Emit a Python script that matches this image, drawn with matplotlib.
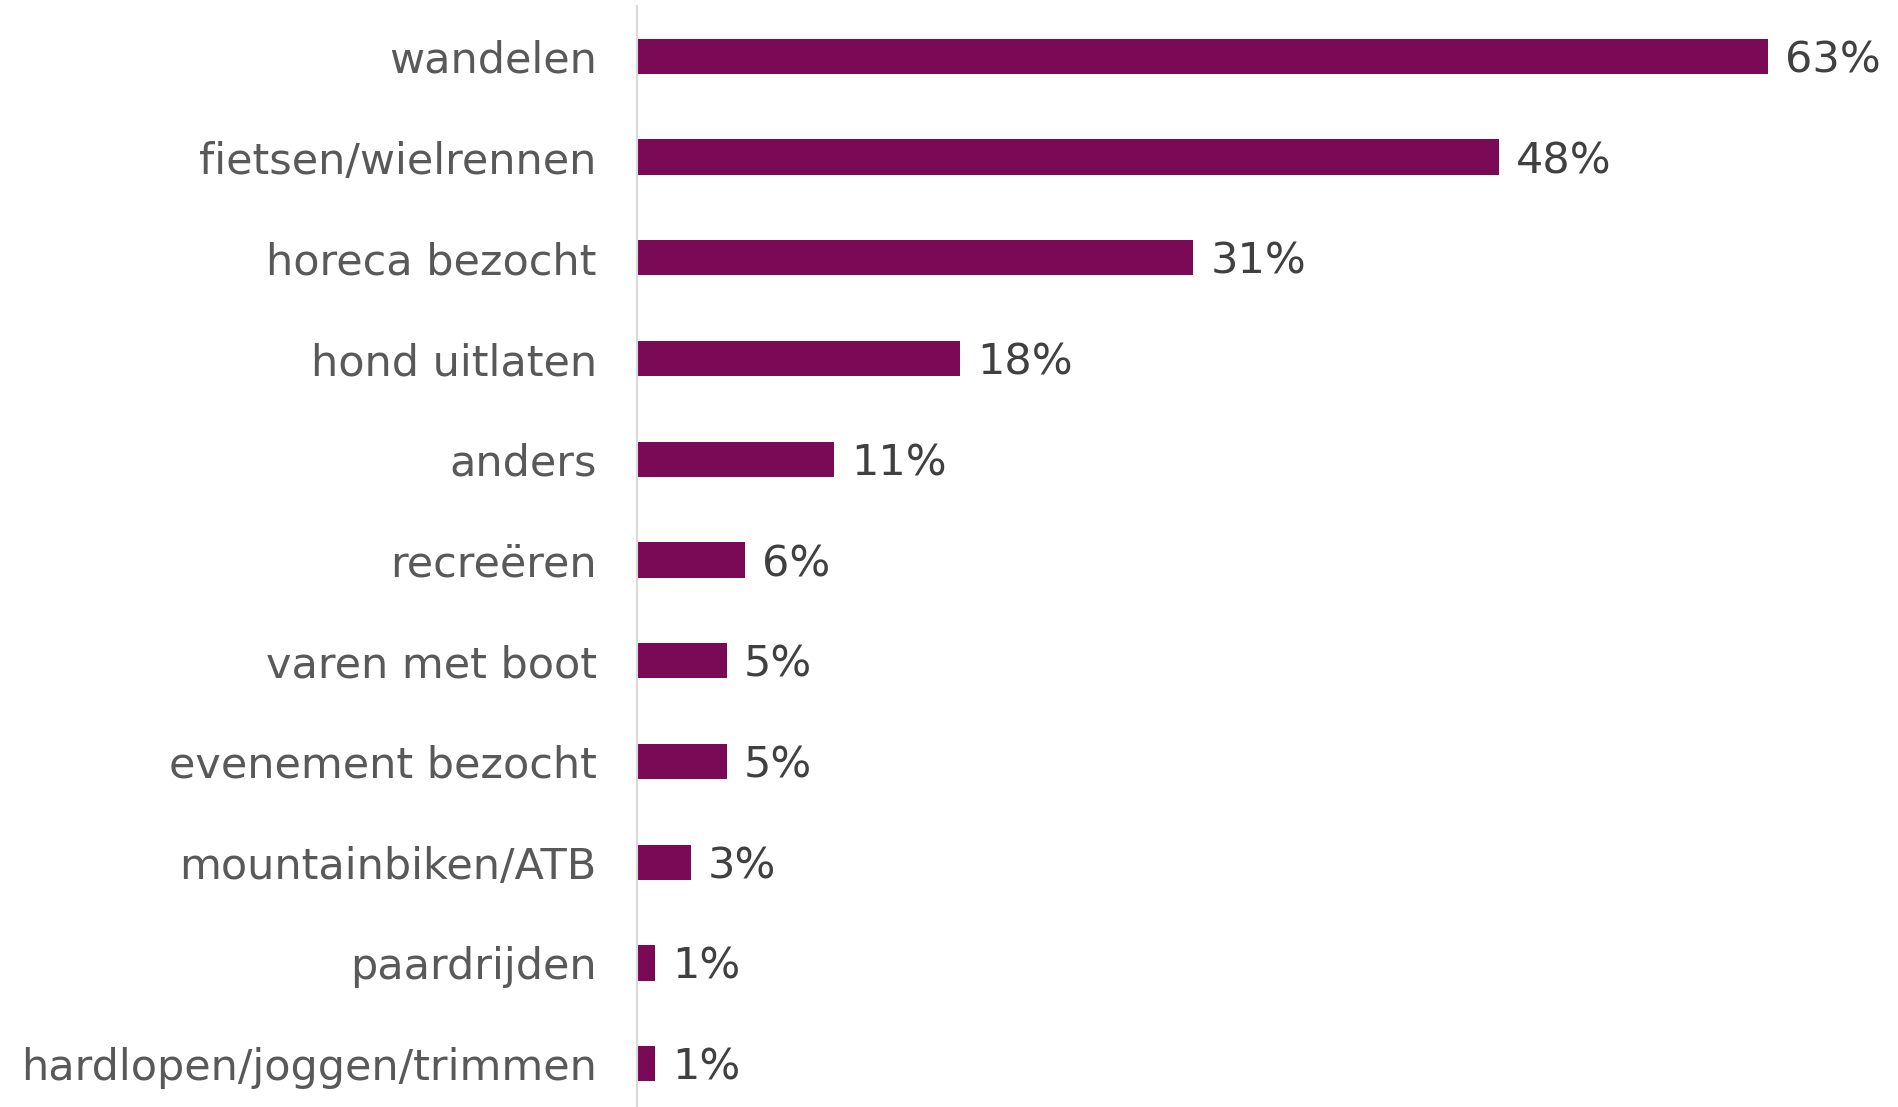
import matplotlib.pyplot as plt

activiteiten = ["wandelen", "fietsen/wielrennen", "horeca bezocht", "hond uitlaten",
                "anders", "recreëren", "varen met boot", "evenement bezocht",
                "mountainbiken/ATB", "paardrijden", "hardlopen/joggen/trimmen"]
percentages = [63, 48, 31, 18, 11, 6, 5, 5, 3, 1, 1]

fig = plt.figure(figsize=(18.98, 11.07), dpi=100)
ax = fig.add_axes([637 / 1898, 0, 1 - 637 / 1898, 1 - 6 / 1107])

posities = range(len(activiteiten))
ax.barh(posities, percentages, height=0.35, color="#7b0a56")

for p, v in zip(posities, percentages):
    ax.text(v + 0.95, p + 0.04, f"{v}%", va="center", ha="left", fontsize=31, color="#404040")

ax.set_yticks(list(posities))
ax.set_yticklabels(activiteiten, fontsize=31, color="#595959")
ax.tick_params(axis="y", length=0, pad=29)
ax.set_xticks([])
ax.set_xlim(0, 70.25)
ax.set_ylim(10.43, -0.5)

for s in ["top", "right", "bottom"]:
    ax.spines[s].set_visible(False)
ax.spines["left"].set_color("#d9d9d9")
ax.spines["left"].set_linewidth(1.5)

fig.savefig("out.png", dpi=100)
